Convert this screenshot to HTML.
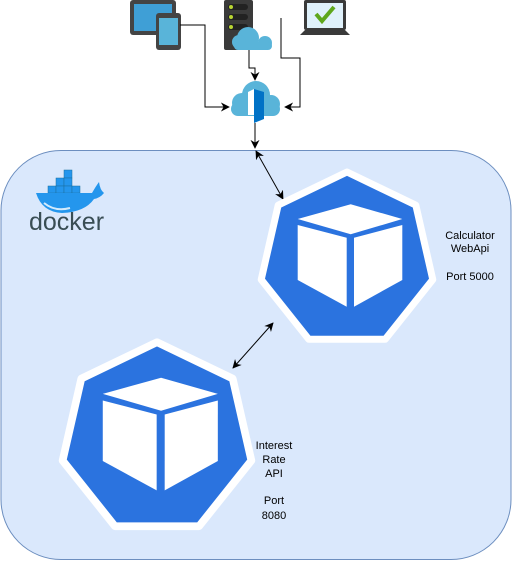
<!DOCTYPE html>
<html><head><meta charset="utf-8"><style>
html,body{margin:0;padding:0;background:#fff;}
svg{display:block;}
text{font-family:"Liberation Sans",sans-serif;}
</style></head><body>
<svg width="512" height="561" viewBox="0 0 512 561" xmlns="http://www.w3.org/2000/svg">
<defs>
<marker id="ah" viewBox="0 0 10 10" refX="9" refY="5" markerWidth="9" markerHeight="9" markerUnits="userSpaceOnUse" orient="auto-start-reverse">
<path d="M0,0 L10,5 L0,10 L3,5 z" fill="#000"/></marker>
<g id="k8s">
<polygon points="347,172 415.8,205.1 432.8,279.6 385.2,339.3 308.8,339.3 261.2,279.6 278.2,205.1" fill="#2b73df" stroke="#fff" stroke-width="7" stroke-linejoin="round"/>
<polygon points="350.7,204.3 402.3,219 350.7,234.3 297.7,219" fill="#fff"/>
<polygon points="297.7,225 346.7,237.7 346.7,306.7 297.7,280" fill="#fff"/>
<polygon points="354,237.7 402.3,225 402.3,280 354,306.7" fill="#fff"/>
</g>
</defs>
<rect x="1" y="150.5" width="510" height="409" rx="60" fill="#dae8fc" stroke="#6c8ebf" stroke-width="1"/>

<rect x="130" y="0" width="46" height="35" rx="3" fill="#444"/>
<rect x="134" y="4" width="38" height="27" fill="#3f9fd6"/>
<rect x="156" y="13" width="25" height="37" rx="3" fill="#444"/>
<rect x="159" y="18" width="19" height="27" fill="#59b4d9"/>
<rect x="224" y="0" width="29" height="50" rx="2" fill="#3a3a3a"/>
<rect x="228" y="4" width="20" height="6" rx="3" fill="#222"/><circle cx="231" cy="7" r="2" fill="#b8d432"/>
<rect x="228" y="14" width="20" height="6" rx="3" fill="#222"/><circle cx="231" cy="17" r="2" fill="#b8d432"/>
<rect x="228" y="24" width="20" height="6" rx="3" fill="#222"/><circle cx="231" cy="27" r="2" fill="#b8d432"/>
<g fill="#59b4d9"><circle cx="248" cy="38" r="11"/><circle cx="239" cy="42" r="7"/><circle cx="265" cy="43" r="7"/><rect x="234" y="42" width="38" height="8" rx="4"/></g>
<rect x="304" y="0" width="42" height="30" rx="2" fill="#3a3a3a"/>
<rect x="307" y="3" width="36" height="25" fill="#dff1fb"/>
<path d="M316,14 L322,21 L334,7" stroke="#5ea71c" stroke-width="4" fill="none"/>
<polygon points="300,35 350,35 345,30 305,30" fill="#3a3a3a"/>
<g fill="#59b4d9"><circle cx="256" cy="95" r="14"/><circle cx="242" cy="103" r="10"/><circle cx="271" cy="104" r="9"/><rect x="231" y="102" width="49" height="14" rx="7"/></g>
<polygon points="254,89 264,92 264,119 254,123" fill="#0072c6"/>
<polygon points="248,92 254,89 254,115 248,115" fill="#fff"/>

<g stroke="#000" stroke-width="1" fill="none">
<polyline points="180,25 205,25 205,107 229,107" marker-end="url(#ah)"/>
<polyline points="249,50 249,68 255,68 255,80" marker-end="url(#ah)"/>
<polyline points="281,18 281,58 300,58 300,107 285,107" marker-end="url(#ah)"/>
<polyline points="255,123 255,148" marker-end="url(#ah)"/>
<line x1="256" y1="151" x2="283" y2="199" marker-start="url(#ah)" marker-end="url(#ah)"/>
<line x1="273" y1="323" x2="233" y2="368" marker-start="url(#ah)" marker-end="url(#ah)"/>
</g>

<g>
<g fill="#2496ed" stroke="#1a6f9e" stroke-width="0.5">
<rect x="64" y="170" width="8" height="8"/>
<rect x="56" y="178" width="8" height="8"/><rect x="64" y="178" width="8" height="8"/>
<rect x="48" y="186" width="8" height="7"/><rect x="56" y="186" width="8" height="7"/><rect x="64" y="186" width="8" height="7"/><rect x="72" y="186" width="8" height="7"/>
</g>
<path d="M36,193 L92,193 Q96,186 99,182 Q100,190 104,193 Q100,198 94,199 Q85,212 62,213 Q42,212 36,193 z" fill="#2496ed"/>
<path d="M44,203 Q55,212 70,208" stroke="#fff" stroke-width="2" fill="none" opacity="0.8"/>
<text x="29" y="230" font-size="25" fill="#394d54">docker</text>
</g>

<use href="#k8s"/>
<g transform="translate(157,439) scale(1.1) translate(-347,-260)"><use href="#k8s"/></g>

<g font-size="11" fill="#000" text-anchor="middle">
<text x="470" y="239">Calculator</text>
<text x="470" y="252">WebApi</text>
<text x="470" y="280">Port 5000</text>
<text x="274" y="449">Interest</text>
<text x="274" y="463">Rate</text>
<text x="274" y="477">API</text>
<text x="274" y="504">Port</text>
<text x="274" y="519">8080</text>
</g>
</svg>
</body></html>
